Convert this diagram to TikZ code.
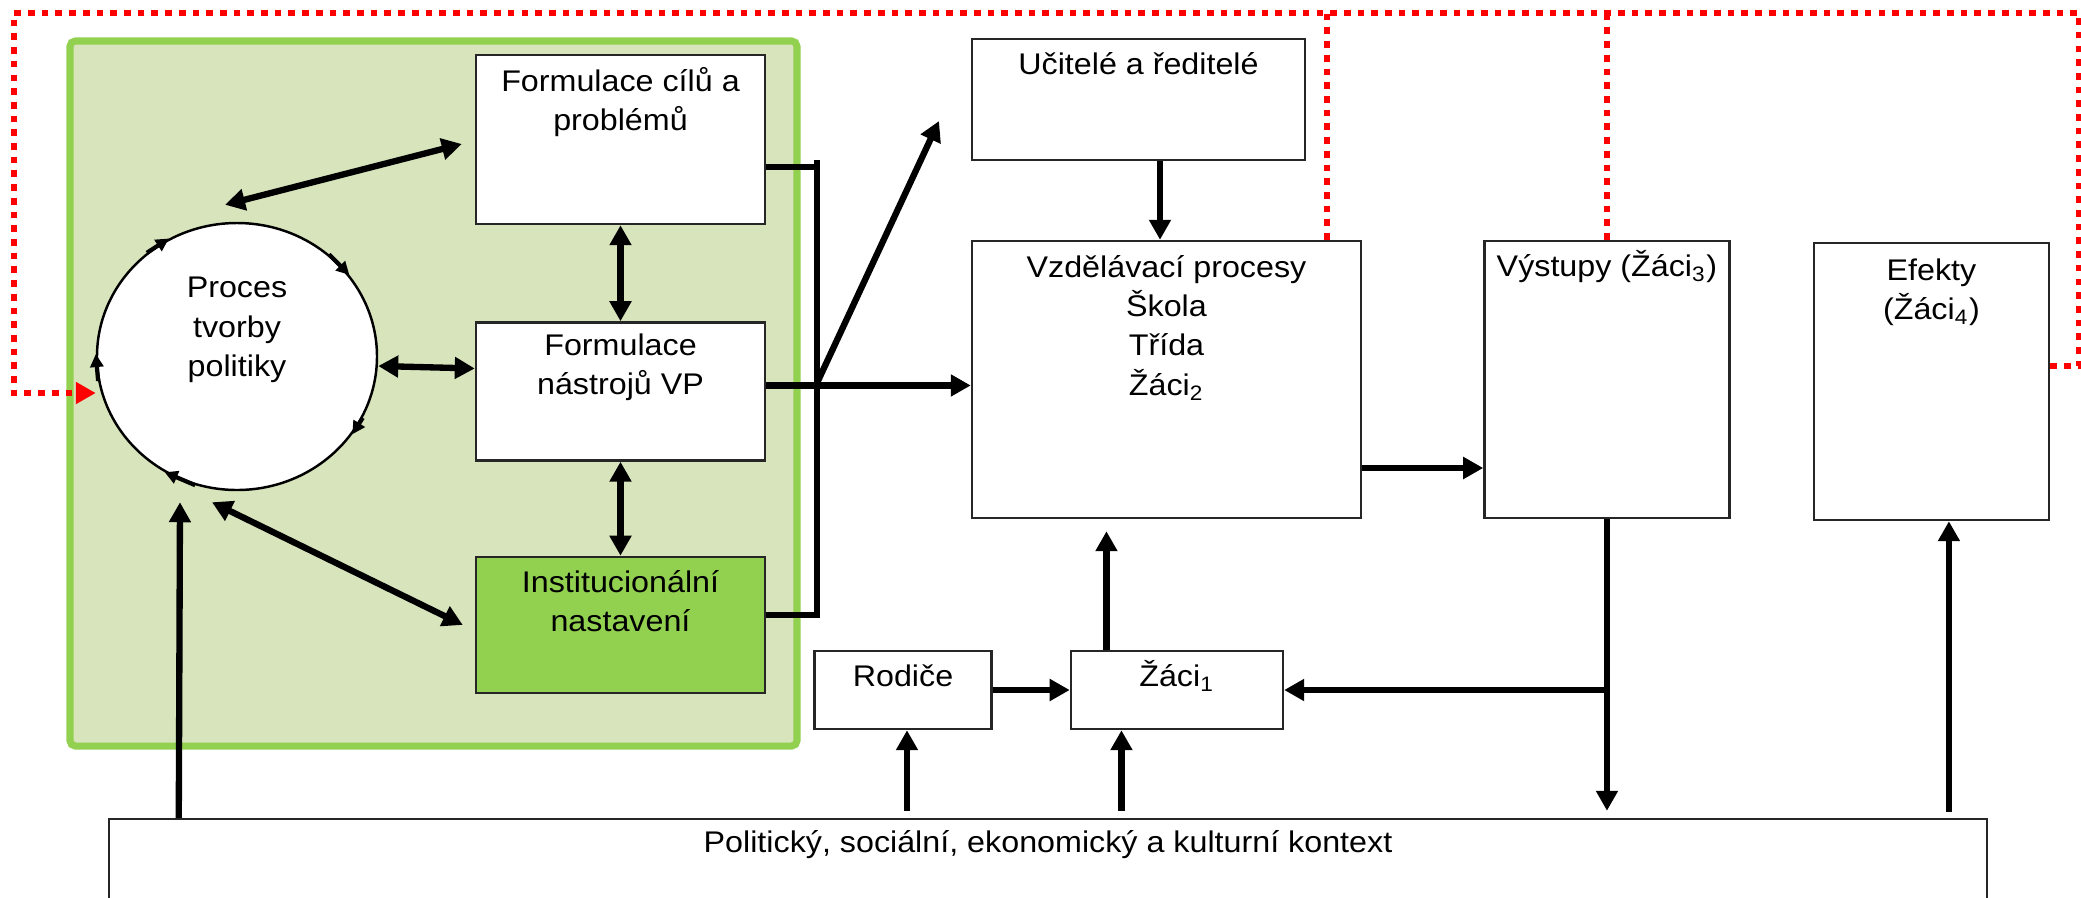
\documentclass[tikz,border=0pt]{standalone}
\usepackage{fontspec}
\setmainfont{Liberation Sans}[FakeStretch=1.08]
\usetikzlibrary{positioning,arrows.meta,shapes.geometric}
\definecolor{zelena}{HTML}{92D050}
\definecolor{svetla}{HTML}{D8E4BC}
\definecolor{cervena}{HTML}{FF0000}
\begin{document}
\begin{tikzpicture}[blok/.style={draw=black!85,line width=0.7pt,fill=white,inner sep=0pt},
		txt/.style={anchor=north,yshift=#1,align=center,inner sep=0pt,execute at begin node=\strut},txt/.default=-2.4pt,
		sip/.style={line width=1.8pt,>={Triangle[length=2mm,width=2.1mm]}},
		mala/.style={line width=1.2pt,->,>={Triangle[length=1.3mm,width=1.3mm]}},
		zpet/.style={draw=cervena,line width=1.8pt,dash pattern=on 1.9pt off 2pt},
		font=\fontsize{8.5}{11.2}\selectfont]
		\useasboundingbox (0,0) rectangle (20.81,-8.97);
		\node[draw=zelena,fill=svetla,line width=2pt,rounded corners=1.5pt,minimum width=7.27cm,minimum height=7.05cm] (pan) at (4.335,-3.935) {};
		\node[blok,minimum width=2.89cm,minimum height=1.69cm,label={[txt=-3.6pt]north:{Formulace cílů a\\problémů}}] (cil) at (6.205,-1.395) {};
		\node[blok,minimum width=2.89cm,minimum height=1.38cm,label={[txt=-3.4pt]north:{Formulace\\nástrojů VP}}] (nas) [below=0.96cm of cil] {};
		\node[blok,fill=zelena,minimum width=2.89cm,minimum height=1.36cm,label={[txt=-4pt]north:{Institucionální\\nastavení}}] (ins) [below=0.94cm of nas] {};
		\node[blok,ellipse,draw=black,minimum width=2.8cm,minimum height=2.67cm,label={[txt=-15.6pt]north:{Proces\\tvorby\\politiky}}] (pr) at (2.37,-3.565) {};
		\node[blok,minimum width=3.33cm,minimum height=1.21cm,label={[txt]north:{Učitelé a ředitelé}}] (uc) at (11.385,-0.995) {};
		\node[blok,minimum width=3.89cm,minimum height=2.77cm,label={[txt=-4.2pt]north:{Vzdělávací procesy\\Škola\\Třída\\Žáci\textsubscript{2}}}] (vp) at (11.665,-3.795) {};
		\node[blok,minimum width=2.45cm,minimum height=2.77cm,label={[txt]north:{Výstupy (Žáci\textsubscript{3})}}] (vy) [right=1.21cm of vp] {};
		\node[blok,minimum width=2.35cm,minimum height=2.77cm,label={[txt=-4.6pt]north:{Efekty\\(Žáci\textsubscript{4})}}] (ef) [right=0.82cm of vy,yshift=-0.02cm] {};
		\node[blok,minimum width=1.77cm,minimum height=0.78cm,label={[txt]north:{Rodiče}}] (ro) at (9.03,-6.90) {};
		\node[blok,minimum width=2.12cm,minimum height=0.78cm,label={[txt]north:{Žáci\textsubscript{1}}}] (za) [right=0.77cm of ro] {};
		\node[blok,minimum width=18.78cm,minimum height=1.6cm,label={[txt=-1.8pt]north:{Politický, sociální, ekonomický a kulturní kontext}}] (kx) at (10.48,-8.99) {};

		\coordinate (bt) at (8.17,-1.60);
		\coordinate (bb) at (8.17,-6.18);
		\coordinate (bm) at (8.17,-3.83);
		\coordinate (hr) at (9.39,-1.21);
		\coordinate (rtr) at (20.79,-0.13);
		\coordinate (rtl) at (0.14,-0.13);

		\draw[zpet,->,>={Triangle[length=2mm,width=2.1mm]}] ([yshift=0.155cm]ef.east) -| (rtr) -- (rtl) |- ([yshift=-0.365cm]pr.west);
		\draw[zpet] ([xshift=1.605cm]vp.north) -- ([xshift=1.605cm]vp.north |- rtl);
		\draw[zpet] (vy.north) -- (vy.north |- rtl);

		\draw[sip,<->] ([shift={(-0.12,0.17)}]pr.north) -- ([shift={(-0.13,-0.045)}]cil.west);
		\draw[sip,<->] ([yshift=-0.095cm]pr.east) -- ([yshift=0.23cm]nas.west);
		\draw[sip,<->] (cil) -- (nas);
		\draw[sip,<->] (nas) -- (ins);
		\draw[sip,<->] ([shift={(-0.25,-0.11)}]pr.south) -- ([xshift=-0.12cm]ins.west);
		\draw[sip,->] ([xshift=0.71cm]kx.north west) -- ([shift={(-0.57,-0.11)}]pr.south);
		\foreach \a/\b in {131/120,48/36,334/326,252/238,190/179}
			\draw[mala] (pr.\a) -- (pr.\b);

		\draw[sip] ([yshift=-0.275cm]cil.east) -| (bt);
		\draw[sip] ([yshift=0.1cm]ins.east) -| (bb);
		\draw[sip] (bt) -- (bb);
		\draw[sip,->] ([yshift=0.06cm]nas.east) -- ([yshift=0.06cm]nas.east -| vp.west);
		\draw[sip,->] (bm) -- (hr);
		\draw[sip,->] ([xshift=0.215cm]uc.south) -- ([xshift=0.215cm]uc.south |- vp.north);
		\draw[sip,->] ([yshift=-0.885cm]vp.east) -- ([yshift=-0.885cm]vy.west);
		\draw[sip,->,shorten >=0.07cm] (vy.south) -- (vy.south |- kx.north);
		\draw[sip,->] (vy.south |- za.east) -- (za.east);
		\draw[sip,->] (ro) -- (za);
		\draw[sip,->,shorten >=0.12cm] ([xshift=-0.705cm]za.north) -- ([xshift=-0.705cm]za.north |- vp.south);
		\draw[sip,->,shorten <=0.07cm] ([xshift=0.04cm]ro.south |- kx.north) -- ([xshift=0.04cm]ro.south);
		\draw[sip,->,shorten <=0.07cm] ([xshift=-0.555cm]za.south |- kx.north) -- ([xshift=-0.555cm]za.south);
		\draw[sip,->,shorten <=0.06cm] ([xshift=0.175cm]ef.south |- kx.north) -- ([xshift=0.175cm]ef.south);
	\end{tikzpicture}
\end{document}
